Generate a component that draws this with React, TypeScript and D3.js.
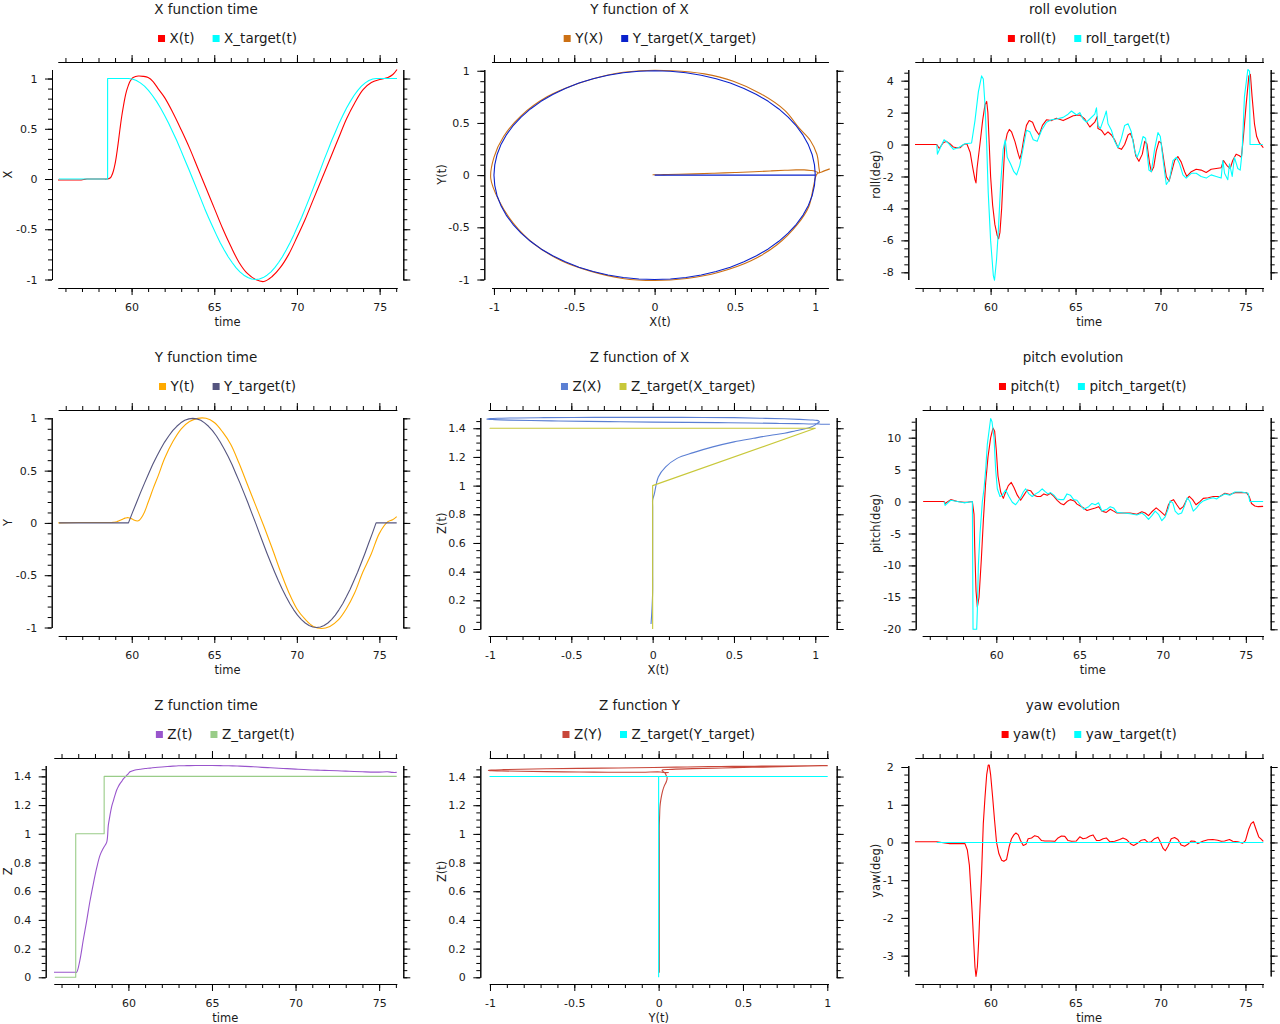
import { useEffect, useRef } from "react"
import * as d3 from "d3"

// ---- measured trajectory (shared time base for X, Y, Z) ----
const trajTime = [
  55.55, 56.8, 56.9, 57.1, 57.3, 57.5, 57.7, 57.9, 58.1, 58.3, 58.5,
  58.7, 58.8, 58.9, 59.0, 59.1, 59.2, 59.3, 59.4, 59.5, 59.6,
  59.7, 59.8, 59.9, 60.0, 60.1, 60.4, 60.7, 61.0, 61.3, 61.6,
  62.0, 62.5, 63.0, 63.5, 64.0, 64.5, 65.0, 65.5, 66.0, 66.5,
  67.0, 67.5, 68.0, 68.5, 69.0, 69.5, 70.0, 70.5, 71.0, 71.5,
  72.0, 72.5, 73.0, 73.5, 74.0, 74.5, 75.0, 75.5, 75.8, 76.05
]
const posX = [
  -0.01, -0.01, -0.01, -0.005, 0, 0, 0, 0, 0, 0, 0,
  0.01, 0.035, 0.08, 0.15, 0.25, 0.37, 0.5, 0.62, 0.72, 0.81,
  0.88, 0.93, 0.97, 0.995, 1.01, 1.025, 1.022, 1.01, 0.97, 0.9,
  0.81, 0.66, 0.49, 0.31, 0.11, -0.09, -0.29, -0.49, -0.67, -0.83,
  -0.94, -1.0, -1.02, -0.97, -0.88, -0.75, -0.58, -0.4, -0.2, 0.0,
  0.2, 0.4, 0.6, 0.76, 0.89, 0.96, 0.99, 1.01, 1.04, 1.09
]
const posY = [
  0, 0.004, 0.004, 0.004, 0.004, 0.004, 0.004, 0.004, 0.004, 0.004, 0.004,
  0.004, 0.004, 0.006, 0.008, 0.012, 0.018, 0.025, 0.032, 0.04, 0.046,
  0.05, 0.05, 0.045, 0.04, 0.03, 0.02, 0.08, 0.2, 0.33, 0.45,
  0.62, 0.78, 0.9, 0.97, 1.0, 1.0, 0.96, 0.87, 0.75, 0.57,
  0.37, 0.17, -0.03, -0.24, -0.46, -0.66, -0.82, -0.92, -0.99, -1.01,
  -0.99, -0.93, -0.82, -0.67, -0.47, -0.3, -0.1, 0.01, 0.03, 0.06
]
const posZ = [
  0.035, 0.035, 0.035, 0.12, 0.26, 0.39, 0.53, 0.65, 0.76, 0.85, 0.9,
  0.94, 1.06, 1.13, 1.19, 1.23, 1.27, 1.305, 1.33, 1.35, 1.365,
  1.383, 1.395, 1.407, 1.42, 1.432, 1.445, 1.45, 1.455, 1.458, 1.462,
  1.466, 1.47, 1.474, 1.475, 1.476, 1.476, 1.476, 1.475, 1.474, 1.472,
  1.47, 1.467, 1.463, 1.46, 1.457, 1.454, 1.451, 1.448, 1.445, 1.443,
  1.441, 1.439, 1.437, 1.434, 1.432, 1.43, 1.43, 1.432, 1.428, 1.428
]

// ---- target trajectory ----
const targetTime = [
  55.6, 56.85, 56.85, 58.55, 58.55,
  59.8, 60.04, 60.29, 60.53, 60.78, 61.02, 61.26, 61.51, 61.75, 61.99, 62.24, 62.48, 62.73, 62.97, 63.21, 63.46, 63.7,
  63.94, 64.18, 64.41, 64.65, 64.89, 65.13, 65.36, 65.6, 65.84, 66.08, 66.31, 66.55, 66.79, 67.03, 67.26, 67.5,
  67.73, 67.96, 68.19, 68.43, 68.66, 68.89, 69.12, 69.35, 69.58, 69.81, 70.04, 70.28, 70.51, 70.74, 70.97, 71.2,
  71.43, 71.65, 71.88, 72.1, 72.33, 72.55, 72.78, 73.0, 73.23, 73.45, 73.68, 73.9, 74.13, 74.35, 74.58, 74.8,
  76.05
]
const targetX = [
  0, 0, 0, 0, 1,
  1, 0.995, 0.981, 0.957, 0.924, 0.882, 0.831, 0.773, 0.707, 0.634, 0.556, 0.471, 0.383, 0.29, 0.195, 0.098, 0,
  -0.098, -0.195, -0.29, -0.383, -0.471, -0.556, -0.634, -0.707, -0.773, -0.831, -0.882, -0.924, -0.957, -0.981, -0.995, -1,
  -0.995, -0.981, -0.957, -0.924, -0.882, -0.831, -0.773, -0.707, -0.634, -0.556, -0.471, -0.383, -0.29, -0.195, -0.098, 0,
  0.098, 0.195, 0.29, 0.383, 0.471, 0.556, 0.634, 0.707, 0.773, 0.831, 0.882, 0.924, 0.957, 0.981, 0.995, 1,
  1
]
const targetY = [
  0, 0, 0, 0, 0,
  0, 0.098, 0.195, 0.29, 0.383, 0.471, 0.556, 0.634, 0.707, 0.773, 0.831, 0.882, 0.924, 0.957, 0.981, 0.995, 1,
  0.995, 0.981, 0.957, 0.924, 0.882, 0.831, 0.773, 0.707, 0.634, 0.556, 0.471, 0.383, 0.29, 0.195, 0.098, 0,
  -0.098, -0.195, -0.29, -0.383, -0.471, -0.556, -0.634, -0.707, -0.773, -0.831, -0.882, -0.924, -0.957, -0.981, -0.995, -1,
  -0.995, -0.981, -0.957, -0.924, -0.882, -0.831, -0.773, -0.707, -0.634, -0.556, -0.471, -0.383, -0.29, -0.195, -0.098, 0,
  0
]
const targetZ = [
  0, 0, 1, 1, 1.4,
  1.4, 1.4, 1.4, 1.4, 1.4, 1.4, 1.4, 1.4, 1.4, 1.4, 1.4, 1.4, 1.4, 1.4, 1.4, 1.4, 1.4,
  1.4, 1.4, 1.4, 1.4, 1.4, 1.4, 1.4, 1.4, 1.4, 1.4, 1.4, 1.4, 1.4, 1.4, 1.4, 1.4,
  1.4, 1.4, 1.4, 1.4, 1.4, 1.4, 1.4, 1.4, 1.4, 1.4, 1.4, 1.4, 1.4, 1.4, 1.4, 1.4,
  1.4, 1.4, 1.4, 1.4, 1.4, 1.4, 1.4, 1.4, 1.4, 1.4, 1.4, 1.4, 1.4, 1.4, 1.4, 1.4,
  1.4
]

// ---- attitude ----
const rollTime = [
  55.55, 56.83, 56.98, 57.2, 57.4, 57.6, 57.8, 58.0, 58.2, 58.4,
  58.6, 58.8, 58.94, 59.08, 59.14, 59.2, 59.37, 59.53, 59.67, 59.77,
  59.84, 59.92, 60.0, 60.12, 60.25, 60.39, 60.47, 60.55, 60.65, 60.74,
  60.84, 60.98, 61.1, 61.23, 61.43, 61.63, 61.72, 61.82, 61.96, 62.11,
  62.27, 62.47, 62.66, 62.86, 63.05, 63.29, 63.58, 63.88, 64.27, 64.56,
  64.86, 65.25, 65.54, 65.84, 66.13, 66.27, 66.32, 66.52, 66.72, 66.91,
  67.11, 67.3, 67.5, 67.7, 67.89, 68.09, 68.22, 68.38, 68.54, 68.73,
  68.93, 69.07, 69.2, 69.36, 69.46, 69.6, 69.75, 69.91, 70.04, 70.18,
  70.34, 70.5, 70.63, 70.83, 71.02, 71.22, 71.42, 71.55, 71.81, 72.1,
  72.39, 72.69, 72.98, 73.28, 73.57, 73.71, 73.9, 74.1, 74.25, 74.45,
  74.65, 74.76, 74.88, 75.04, 75.2, 75.29, 75.39, 75.53, 75.66, 75.82,
  75.98, 76.05
]
const rollValues = [
  0, 0, -0.25, 0.1, 0.2, 0.05, -0.15, -0.2, -0.2, 0,
  0.05, -0.5, -1.4, -2.2, -2.4, -1.5, 0, 1.5, 2.5, 2.7,
  2.0, 0, -2, -3.8, -5, -5.7, -5.9, -5.5, -4, -2,
  0, 0.7, 0.95, 0.8, 0.2, -0.6, -0.9, -0.5, 0.4, 1.2,
  1.5, 1.4, 0.9, 0.6, 1.2, 1.55, 1.5, 1.65, 1.5, 1.65,
  1.8, 1.85, 1.6, 1.1, 1.4, 1.75, 1.0, 0.9, 0.6, 0.8,
  0.6, 0.3, -0.2, -0.3, 0, 0.6, 0.7, 0.3, -0.7, -1.05,
  -0.6, 0.2, 0.05, -1.2, -1.7, -1.4, -0.4, 0.2, 0.1, -0.9,
  -2.0, -2.3, -1.8, -1.0, -0.75, -1.1, -1.7, -2.0, -1.7, -1.55,
  -1.6, -1.75, -1.55, -1.5, -1.45, -1.0, -1.3, -1.5, -1.0, -0.6,
  -0.7, -0.8, 0.5, 2.5, 4.3, 4.4, 3.0, 1.3, 0.5, 0.1,
  -0.1, -0.2
]
const rollTargetTime = [
  56.83, 56.87, 57.0, 57.26, 57.5, 57.81, 58.1, 58.49, 58.88, 59.08,
  59.28, 59.47, 59.57, 59.67, 59.77, 59.86, 60.0, 60.16, 60.23, 60.35,
  60.45, 60.59, 60.74, 60.86, 60.98, 61.17, 61.37, 61.53, 61.72, 61.92,
  62.11, 62.31, 62.51, 62.74, 63.0, 63.29, 63.58, 63.88, 64.27, 64.56,
  64.76, 65.06, 65.25, 65.44, 65.64, 65.84, 66.13, 66.23, 66.32, 66.46,
  66.72, 66.81, 66.91, 67.11, 67.3, 67.5, 67.7, 67.89, 68.09, 68.28,
  68.48, 68.62, 68.77, 68.97, 69.12, 69.32, 69.46, 69.65, 69.85, 69.99,
  70.18, 70.34, 70.53, 70.73, 70.93, 71.12, 71.32, 71.51, 71.81, 72.1,
  72.39, 72.69, 72.98, 73.28, 73.57, 73.67, 73.77, 73.96, 74.06, 74.22,
  74.35, 74.55, 74.69, 74.8, 74.94, 75.14, 75.24, 75.27, 76.02
]
const rollTargetValues = [
  0, -0.6, -0.3, 0.3, 0.1, -0.3, -0.2, 0.05, 0.1, 1.5,
  3.3, 4.3, 4.1, 2.5, 0, -3, -6, -8.2, -8.5, -7.2,
  -5.5, -2.5, -0.3, 0.3, -0.8, -1.2, -1.7, -1.9, -1.3, -0.2,
  0.9, 0.8, 0.3, 0.2, 0.9, 1.4, 1.55, 1.6, 1.7, 1.9,
  2.1, 1.85, 2.0, 1.6, 1.4, 1.6, 1.9, 2.3, 1.2, 1.0,
  1.8, 2.1, 1.3, 0.9, 0.2, -0.2, 0.4, 1.2, 1.3, 0.8,
  -0.4, -0.8, -0.4, 0.5, 0.4, -1.6, -1.7, -0.3, 0.75, 0.5,
  -1.2, -2.5, -2.2, -1.0, -0.8, -1.2, -1.9, -2.1, -1.8, -1.8,
  -2.0, -2.1, -1.9, -2.0, -2.1, -1.0, -1.8, -2.2, -1.2, -2.0,
  -0.8, -1.5, -1.6, -0.5, 3.0, 4.7, 4.6, 0, 0
]

const pitchTime = [
  55.6, 56.86, 56.92, 57.26, 57.66, 58.06, 58.26, 58.56, 58.66, 58.7,
  58.78, 58.86, 58.96, 59.1, 59.22, 59.36, 59.5, 59.66, 59.8, 59.9,
  60.0, 60.1, 60.26, 60.42, 60.56, 60.72, 60.9, 61.06, 61.26, 61.46,
  61.66, 61.86, 62.06, 62.26, 62.46, 62.66, 62.86, 63.06, 63.26, 63.46,
  63.66, 63.86, 64.05, 64.25, 64.45, 64.69, 64.85, 65.05, 65.25, 65.45,
  65.69, 65.95, 66.15, 66.35, 66.61, 66.85, 67.05, 67.25, 67.65, 68.05,
  68.45, 68.75, 68.95, 69.15, 69.35, 69.61, 69.85, 70.15, 70.35, 70.49,
  70.65, 70.85, 71.04, 71.24, 71.44, 71.6, 71.8, 72.0, 72.24, 72.44,
  72.74, 73.04, 73.44, 73.74, 74.04, 74.34, 74.74, 75.04, 75.2, 75.34,
  75.54, 75.74, 76.04
]
const pitchValues = [
  0, 0, -0.3, 0.3, 0, -0.1, -0.1, 0, -2, -7,
  -14, -16.5, -15, -9, -3, 3, 7, 10, 11.5, 11,
  8, 4, 1.5, 0.5, 1.5, 2.5, 3, 2.2, 1.0, 0.2,
  1.0, 1.8, 1.7, 1.0, 0.8, 0.8, 1.2, 1.0, 1.3, 0.8,
  0.2, -0.3, -0.5, 0, 0.3, 0.1, -0.4, -0.7, -1.0, -1.4,
  -1.2, -1.0, -0.8, -1.5, -1.7, -1.2, -1.5, -1.8, -1.8, -1.8,
  -2.0, -1.6, -1.8, -2.2, -1.6, -1.0, -1.5, -2.2, -0.5, 0.1,
  0.3, -0.5, -1.2, -0.8, 0.3, 0.8, 0.3, -0.5, 0, 0.5,
  0.6, 0.8, 0.8, 1.3, 1.1, 1.4, 1.4, 1.4, 0.8, -0.3,
  -0.7, -0.8, -0.75
]
const pitchTargetTime = [
  56.86, 56.92, 57.26, 57.66, 58.06, 58.56, 58.6, 58.82, 58.86, 58.92,
  59.02, 59.16, 59.26, 59.36, 59.46, 59.56, 59.66, 59.74, 59.86, 59.96,
  60.06, 60.22, 60.36, 60.56, 60.76, 60.96, 61.16, 61.3, 61.46, 61.62,
  61.76, 61.96, 62.16, 62.36, 62.56, 62.76, 62.92, 63.1, 63.26, 63.46,
  63.66, 63.86, 64.05, 64.25, 64.45, 64.65, 64.85, 65.05, 65.25, 65.55,
  65.75, 65.95, 66.15, 66.35, 66.65, 66.85, 67.05, 67.25, 67.65, 68.05,
  68.45, 68.75, 68.95, 69.15, 69.35, 69.55, 69.75, 69.95, 70.15, 70.35,
  70.45, 70.61, 70.75, 70.94, 71.14, 71.34, 71.48, 71.64, 71.84, 72.04,
  72.24, 72.44, 72.74, 73.04, 73.24, 73.44, 73.74, 74.04, 74.34, 74.74,
  75.14, 75.24, 76.04
]
const pitchTargetValues = [
  0, -0.6, 0.2, 0, -0.2, 0, -20, -20, -17, -10,
  -5, 0, 2, 5, 9, 11, 13, 12.5, 10, 5,
  2, 0.8, 1.0, 1.8, 0.8, -0.1, -0.5, 0, 0.6, 1.5,
  2.0, 1.2, 0.8, 1.2, 1.5, 2.0, 1.6, 1.2, 1.4, 1.0,
  0.4, 0.3, 0.3, 1.2, 1.0, 0.3, 0.2, -0.5, -1.2, -0.8,
  -0.3, -0.5, -0.2, -1.5, -1.2, -0.8, -1.0, -1.7, -1.8, -1.9,
  -2.1, -1.8, -2.2, -2.8, -2.2, -1.5, -2.0, -3.0, -2.4, -1.0,
  0.1, -0.2, -1.5, -2.0, -1.8, -0.5, 0.6, 0, -1.5, -1.0,
  -0.3, 0.1, 0.4, 0.6, 0.4, 0.8, 1.2, 1.0, 1.5, 1.5,
  1.3, 0, 0
]

const yawTime = [
  55.55, 56.83, 57.12, 57.6, 58.2, 58.49, 58.63, 58.75, 58.83, 58.92,
  59.0, 59.08, 59.14, 59.22, 59.3, 59.37, 59.47, 59.57, 59.67, 59.77,
  59.86, 59.92, 60.0, 60.12, 60.23, 60.35, 60.49, 60.65, 60.78, 60.94,
  61.1, 61.23, 61.37, 61.49, 61.63, 61.76, 61.92, 62.08, 62.21, 62.41,
  62.6, 62.8, 63.0, 63.19, 63.49, 63.78, 63.97, 64.17, 64.37, 64.56,
  64.76, 65.05, 65.25, 65.44, 65.64, 65.84, 66.03, 66.23, 66.42, 66.62,
  66.81, 67.01, 67.3, 67.6, 67.79, 67.99, 68.28, 68.42, 68.62, 68.87,
  69.07, 69.26, 69.46, 69.65, 69.85, 69.95, 70.14, 70.28, 70.44, 70.63,
  70.83, 71.02, 71.22, 71.42, 71.61, 71.81, 72.0, 72.2, 72.49, 72.79,
  73.08, 73.37, 73.57, 73.77, 74.06, 74.25, 74.55, 74.84, 75.0, 75.19,
  75.33, 75.47, 75.62, 75.78, 75.94, 76.05
]
const yawValues = [
  0.02, 0.02, 0, -0.03, -0.03, -0.03, -0.2, -0.6, -1.2, -1.9,
  -2.6, -3.3, -3.55, -3.3, -2.6, -1.8, -0.8, 0.5, 1.2, 1.8,
  2.05, 2.05, 1.8, 1.2, 0.6, 0, -0.3, -0.47, -0.5, -0.45,
  -0.1, 0.1, 0.2, 0.25, 0.2, 0.05, -0.08, -0.05, 0.1, 0.12,
  0.18, 0.15, 0.05, 0.04, 0.04, 0.03, 0.12, 0.17, 0.16, 0.05,
  0.03, 0.04, 0.15, 0.1, 0.12, 0.17, 0.2, 0.05, 0.05, 0.1,
  0.12, 0.02, 0.03, 0.08, 0.12, 0.08, -0.05, -0.08, -0.03, 0.06,
  0.08, 0, 0.02, 0.1, 0.14, 0.05, -0.15, -0.22, -0.1, 0.1,
  0.13, 0.08, -0.07, -0.1, -0.05, 0.04, 0.03, -0.03, 0.03, 0.07,
  0.08, 0.06, 0.03, 0.04, 0.08, 0.03, 0.02, -0.02, 0.05, 0.35,
  0.5, 0.55, 0.35, 0.15, 0.08, 0.03
]
const yawTargetTime = [56.83, 76.05]
const yawTargetValues = [0, 0]

const FONT = "'DejaVu Sans', sans-serif"
const ROW_H = 348
const TOP_AXIS_Y = 62
const PLOT_TOP = 69.5
const BOTTOM_AXIS_Y = 288
const TIME: [number, number] = [55.55, 76.05]
const RED = "#ff0000"
const CYAN = "#00ffff"

interface Series { label: string; color: string; xs: number[]; ys: number[]; smooth?: boolean }
interface Panel {
  title: string
  titleX: number
  row: number
  x0: number
  x1: number
  leftX: number
  rightX: number
  yLabelX: number
  yBottom: number
  xDomain: [number, number]
  yDomain: [number, number]
  xStep: [number, number]
  yStep: [number, number]
  xLabel: string
  yLabel: string
  series: Series[]
}

const panels: Panel[] = [
  {
    title: "X function time", titleX: 206, row: 0, x0: 58, x1: 397, leftX: 52, rightX: 403.3, yLabelX: 7.5,
    yBottom: 279.5, xDomain: TIME, yDomain: [-1, 1.09], xStep: [5, 1], yStep: [0.5, 0.1],
    xLabel: "time", yLabel: "X",
    series: [
      { label: "X(t)", color: RED, xs: trajTime, ys: posX, smooth: true },
      { label: "X_target(t)", color: CYAN, xs: targetTime, ys: targetX }
    ]
  },
  {
    title: "Y function of X", titleX: 639.5, row: 0, x0: 491.7, x1: 828.3, leftX: 484.3, rightX: 836.7, yLabelX: 442,
    yBottom: 279.5, xDomain: [-1.014, 1.081], yDomain: [-1, 1.012], xStep: [0.5, 0.1], yStep: [0.5, 0.1],
    xLabel: "X(t)", yLabel: "Y(t)",
    series: [
      { label: "Y(X)", color: "#cc7014", xs: posX, ys: posY, smooth: true },
      { label: "Y_target(X_target)", color: "#0a22cc", xs: targetX, ys: targetY }
    ]
  },
  {
    title: "roll evolution", titleX: 1073, row: 0, x0: 915, x1: 1263.3, leftX: 908.3, rightX: 1270.7, yLabelX: 876,
    yBottom: 279.5, xDomain: TIME, yDomain: [-8.45, 4.7], xStep: [5, 1], yStep: [2, 0.5],
    xLabel: "time", yLabel: "roll(deg)",
    series: [
      { label: "roll(t)", color: RED, xs: rollTime, ys: rollValues },
      { label: "roll_target(t)", color: CYAN, xs: rollTargetTime, ys: rollTargetValues }
    ]
  },
  {
    title: "Y function time", titleX: 206, row: 1, x0: 58.3, x1: 396.7, leftX: 51.7, rightX: 403.3, yLabelX: 7.5,
    yBottom: 279.5, xDomain: TIME, yDomain: [-1, 1.008], xStep: [5, 1], yStep: [0.5, 0.1],
    xLabel: "time", yLabel: "Y",
    series: [
      { label: "Y(t)", color: "#ffaa00", xs: trajTime, ys: posY, smooth: true },
      { label: "Y_target(t)", color: "#55557f", xs: targetTime, ys: targetY }
    ]
  },
  {
    title: "Z function of X", titleX: 639.5, row: 1, x0: 488.3, x1: 828.3, leftX: 480.3, rightX: 836.7, yLabelX: 442,
    yBottom: 281, xDomain: [-1.0105, 1.08], yDomain: [0, 1.475], xStep: [0.5, 0.1], yStep: [0.2, 0.05],
    xLabel: "X(t)", yLabel: "Z(t)",
    series: [
      { label: "Z(X)", color: "#5b7fd3", xs: posX, ys: posZ, smooth: true },
      { label: "Z_target(X_target)", color: "#c8c83a", xs: targetX, ys: targetZ }
    ]
  },
  {
    title: "pitch evolution", titleX: 1073, row: 1, x0: 922.3, x1: 1263.3, leftX: 915.7, rightX: 1270.7, yLabelX: 876,
    yBottom: 281.3, xDomain: TIME, yDomain: [-20, 13.16], xStep: [5, 1], yStep: [5, 1.25],
    xLabel: "time", yLabel: "pitch(deg)",
    series: [
      { label: "pitch(t)", color: RED, xs: pitchTime, ys: pitchValues },
      { label: "pitch_target(t)", color: CYAN, xs: pitchTargetTime, ys: pitchTargetValues }
    ]
  },
  {
    title: "Z function time", titleX: 206, row: 2, x0: 54, x1: 396.7, leftX: 45.7, rightX: 403.3, yLabelX: 8,
    yBottom: 281.3, xDomain: TIME, yDomain: [0, 1.476], xStep: [5, 1], yStep: [0.2, 0.05],
    xLabel: "time", yLabel: "Z",
    series: [
      { label: "Z(t)", color: "#9955cc", xs: trajTime, ys: posZ, smooth: true },
      { label: "Z_target(t)", color: "#99cc88", xs: targetTime, ys: targetZ }
    ]
  },
  {
    title: "Z function Y", titleX: 639.5, row: 2, x0: 489.3, x1: 828.3, leftX: 480.3, rightX: 836.7, yLabelX: 442,
    yBottom: 281.3, xDomain: [-1.004, 1.006], yDomain: [0, 1.477], xStep: [0.5, 0.1], yStep: [0.2, 0.05],
    xLabel: "Y(t)", yLabel: "Z(t)",
    series: [
      { label: "Z(Y)", color: "#c8473a", xs: posY, ys: posZ, smooth: true },
      { label: "Z_target(Y_target)", color: CYAN, xs: targetY, ys: targetZ }
    ]
  },
  {
    title: "yaw evolution", titleX: 1073, row: 2, x0: 915, x1: 1263.3, leftX: 908.3, rightX: 1270.7, yLabelX: 876,
    yBottom: 280, xDomain: TIME, yDomain: [-3.54, 2.04], xStep: [5, 1], yStep: [1, 0.2],
    xLabel: "time", yLabel: "yaw(deg)",
    series: [
      { label: "yaw(t)", color: RED, xs: yawTime, ys: yawValues },
      { label: "yaw_target(t)", color: CYAN, xs: yawTargetTime, ys: yawTargetValues }
    ]
  }
]

function tickValues(domain: [number, number], step: number) {
  const lo = Math.ceil(Math.min(...domain) / step - 1e-6)
  const hi = Math.floor(Math.max(...domain) / step + 1e-6)
  const out: number[] = []
  for (let i = lo; i <= hi; i++) out.push(+(i * step).toFixed(6))
  return out
}

const fmt = (v: any) => String(+(+v).toFixed(3))

function addAxis(g: any, axis: any, tx: number, ty: number, minor: number[], major: number[], padding: number | null) {
  g.append("g").attr("transform", `translate(${tx},${ty})`)
    .call(axis.tickValues(minor).tickSize(4).tickSizeOuter(0).tickFormat(() => ""))
  g.append("g").attr("transform", `translate(${tx},${ty})`)
    .call(axis.tickValues(major).tickSize(7).tickSizeOuter(0)
      .tickPadding(padding ?? 2).tickFormat(padding === null ? () => "" : fmt))
    .attr("font-size", 11).attr("font-family", FONT)
    .selectAll("text").attr("fill", "#1a1a1a")
}

function drawPanel(root: any, p: Panel) {
  const g = root.append("g").attr("transform", `translate(0,${p.row * ROW_H})`)
  const x = d3.scaleLinear().domain(p.xDomain).range([p.x0, p.x1])
  const y = d3.scaleLinear().domain(p.yDomain).range([p.yBottom, PLOT_TOP])

  g.append("text")
    .attr("x", p.titleX).attr("y", 13.5).attr("text-anchor", "middle")
    .attr("font-size", 13.5).attr("fill", "#1a1a1a").text(p.title)

  // legend, centred over the plot area
  const legend = g.append("g")
  let cursor = 0
  p.series.forEach(s => {
    const item = legend.append("g").attr("transform", `translate(${cursor},0)`)
    item.append("rect").attr("x", 0).attr("y", 35).attr("width", 7).attr("height", 7).attr("fill", s.color)
    const label = item.append("text")
      .attr("x", 11.5).attr("y", 42.5).attr("font-size", 13.5).attr("fill", "#1a1a1a").text(s.label)
    cursor += 11.5 + (label.node() as SVGTextElement).getComputedTextLength() + 18
  })
  legend.attr("transform", `translate(${(p.x0 + p.x1) / 2 - (cursor - 18) / 2},0)`)

  // detached frame axes
  const xMajor = tickValues(p.xDomain, p.xStep[0])
  const xMinor = tickValues(p.xDomain, p.xStep[1])
  const yMajor = tickValues(p.yDomain, p.yStep[0])
  const yMinor = tickValues(p.yDomain, p.yStep[1])
  addAxis(g, d3.axisBottom(x), 0, BOTTOM_AXIS_Y, xMinor, xMajor, 8.5)
  addAxis(g, d3.axisTop(x), 0, TOP_AXIS_Y, xMinor, xMajor, null)
  addAxis(g, d3.axisLeft(y), p.leftX, 0, yMinor, yMajor, 7.5)
  addAxis(g, d3.axisRight(y), p.rightX, 0, yMinor, yMajor, null)

  g.append("text")
    .attr("x", (p.x0 + p.x1) / 2).attr("y", 326).attr("text-anchor", "middle")
    .attr("font-size", 11.5).attr("fill", "#1a1a1a").text(p.xLabel)
  g.append("text")
    .attr("transform", `translate(${p.yLabelX},${(PLOT_TOP + p.yBottom) / 2}) rotate(-90)`)
    .attr("text-anchor", "middle").attr("dy", "0.35em")
    .attr("font-size", 11.5).attr("fill", "#1a1a1a").text(p.yLabel)

  p.series.forEach(s => {
    const line = d3.line<number>()
      .x(i => x(s.xs[i]))
      .y(i => y(s.ys[i]))
      .curve(s.smooth ? d3.curveCatmullRom.alpha(0.5) : d3.curveLinear)
    g.append("path")
      .attr("d", line(d3.range(s.xs.length)))
      .attr("fill", "none").attr("stroke", s.color).attr("stroke-width", 1.1)
      .attr("stroke-linejoin", "round")
  })
}

export default function App() {
  const svgRef = useRef<SVGSVGElement>(null)

  useEffect(() => {
    if (!svgRef.current) return
    const svg = d3.select(svgRef.current)
    svg.selectAll("*").remove()
    svg.append("rect").attr("width", 1280).attr("height", 1024).attr("fill", "#fff")
    panels.forEach(p => drawPanel(svg, p))
  }, [])

  return (
    <svg
      ref={svgRef}
      width={1280}
      height={1024}
      fontFamily={FONT}
      style={{ position: "absolute", left: 0, top: 0, color: "#000" }}
    />
  )
}
